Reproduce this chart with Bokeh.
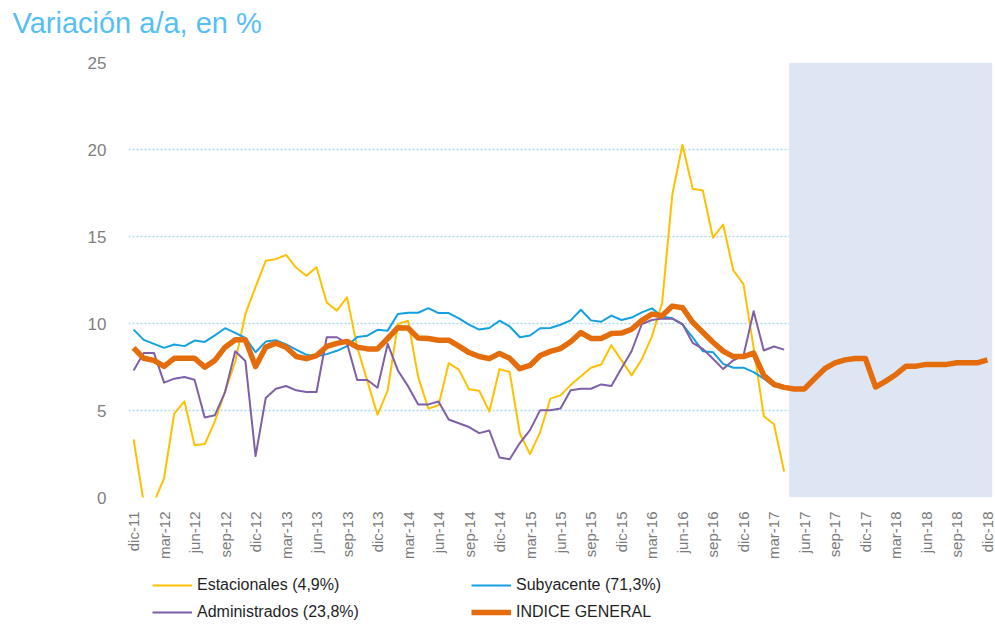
import math
import numpy as np
from bokeh.plotting import figure
from bokeh.models import Range1d, FixedTicker, Legend, LegendItem, Title
from bokeh.layouts import column
from bokeh.embed import file_html
from bokeh.resources import INLINE

# ---------------- data ----------------
month_names = ["ene", "feb", "mar", "abr", "may", "jun", "jul", "ago", "sep", "oct", "nov", "dic"]
months = ["dic-11"] + [f"{m}-{y}" for y in range(12, 19) for m in month_names]  # dic-11 .. dic-18

tick_labels = ["dic-11", "mar-12", "jun-12", "sep-12", "dic-12", "mar-13", "jun-13", "sep-13",
               "dic-13", "mar-14", "jun-14", "sep-14", "dic-14", "mar-15", "jun-15", "sep-15",
               "dic-15", "mar-16", "jun-16", "sep-16", "dic-16", "mar-17", "jun-17", "sep-17",
               "dic-17", "mar-18", "jun-18", "sep-18", "dic-18"]

y_ticks = [0, 5, 10, 15, 20, 25]
forecast_start = "may-17"

estacionales = [3.34, -0.3, -0.3, 1.12, 4.82, 5.53, 3.0, 3.07, 4.38, 6.1, 7.8, 10.55,
                12.1, 13.6, 13.7, 13.94, 13.2, 12.74, 13.23, 11.21, 10.74, 11.5, 8.64, 6.69,
                4.75, 6.16, 9.97, 10.16, 6.92, 5.11, 5.3, 7.72, 7.35, 6.22, 6.14, 4.94,
                7.38, 7.21, 3.68, 2.49, 3.76, 5.68, 5.87, 6.47, 6.97, 7.46, 7.64, 8.75,
                7.88, 7.02, 7.95, 9.26, 11.2, 17.41, 20.27, 17.75, 17.64, 14.93, 15.69, 13.06,
                12.26, 8.6, 4.67, 4.21, 1.49]

subyacente = [9.65, 9.06, 8.83, 8.6, 8.79, 8.7, 9.02, 8.94, 9.32, 9.73, 9.46, 9.17,
              8.35, 8.96, 9.04, 8.8, 8.5, 8.2, 8.1, 8.24, 8.43, 8.7, 9.22, 9.3,
              9.64, 9.59, 10.55, 10.62, 10.62, 10.88, 10.6, 10.6, 10.3, 9.94, 9.65, 9.74,
              10.16, 9.83, 9.21, 9.31, 9.73, 9.74, 9.93, 10.18, 10.79, 10.18, 10.1, 10.45,
              10.2, 10.34, 10.64, 10.87, 10.4, 10.3, 9.95, 9.21, 8.41, 8.35, 7.68, 7.46,
              7.46, 7.21, 6.83, 6.39, 6.3]

administrados = [7.3, 8.31, 8.31, 6.6, 6.83, 6.92, 6.77, 4.6, 4.73, 6.06, 8.41, 7.84,
                 2.38, 5.72, 6.25, 6.41, 6.16, 6.06, 6.06, 9.21, 9.21, 8.85, 6.75, 6.75,
                 6.31, 8.83, 7.3, 6.4, 5.35, 5.35, 5.52, 4.48, 4.27, 4.05, 3.7, 3.85,
                 2.3, 2.2, 3.13, 3.87, 5.02, 5.02, 5.11, 6.16, 6.25, 6.25, 6.5, 6.41,
                 7.43, 8.42, 9.97, 10.2, 10.28, 10.28, 9.97, 8.89, 8.54, 7.97, 7.38, 7.89,
                 8.15, 10.7, 8.45, 8.68, 8.5]

indice_general = [8.6, 8.0, 7.88, 7.53, 8.0, 8.0, 8.0, 7.49, 7.88, 8.64, 9.06, 9.06,
                  7.53, 8.64, 8.87, 8.64, 8.1, 7.98, 8.16, 8.68, 8.86, 8.97, 8.64, 8.54,
                  8.54, 9.14, 9.76, 9.74, 9.16, 9.14, 9.04, 9.04, 8.7, 8.33, 8.1, 7.98,
                  8.28, 8.0, 7.4, 7.59, 8.16, 8.4, 8.56, 8.95, 9.48, 9.14, 9.14, 9.42,
                  9.45, 9.67, 10.18, 10.54, 10.45, 11.0, 10.91, 10.07, 9.5, 8.92, 8.41, 8.1,
                  8.1, 8.3, 7.02, 6.5, 6.33, 6.24, 6.24, 6.83, 7.4, 7.74, 7.91, 7.99,
                  7.99, 6.35, 6.69, 7.07, 7.55, 7.55, 7.65, 7.65, 7.65, 7.74, 7.74, 7.74,
                  7.91]

series = [
    ("Estacionales (4,9%)", estacionales, "#FFC000", 2),
    ("Subyacente (71,3%)", subyacente, "#12A0E0", 2),
    ("Administrados (23,8%)", administrados, "#7F5FA8", 2),
    ("INDICE GENERAL", indice_general, "#E46C0A", 5.5),
]
chart_title = "Variación a/a, en %"

# ---------------- main chart ----------------
FONT = "Liberation Sans"
n = len(months)
W, H_MAIN, H_LEG = 995, 562, 62

p = figure(width=W, height=H_MAIN, output_backend="svg", toolbar_location=None,
           x_range=Range1d(-0.5, n - 0.5), y_range=Range1d(y_ticks[0], y_ticks[-1]),
           min_border_left=128, min_border_right=3, min_border_top=62, min_border_bottom=64)
p.outline_line_color = None
p.background_fill_color = "white"
p.border_fill_color = "white"
p.title.text = ""

# spacer between the title and the plot area, then the title itself (further out)
p.add_layout(Title(text=" ", text_font=FONT, text_font_size="10px", standoff=2), "above")
p.add_layout(Title(text=chart_title, text_font=FONT, text_font_size="29px",
                   text_font_style="normal", text_color="#55BFF5", align="left",
                   vertical_align="top", offset=-116, standoff=13), "above")

# forecast shading
fs = months.index(forecast_start)
p.quad(left=[fs - 0.5], right=[n - 0.5], bottom=[y_ticks[0]], top=[y_ticks[-1]],
       fill_color="#DDE6F2", line_color=None)

for label, vals, color, lw in series:
    p.line(x=list(range(len(vals))), y=vals, line_color=color, line_width=lw, line_join="round")

xa = p.xaxis[0]
xa.ticker = FixedTicker(ticks=[months.index(t) for t in tick_labels])
xa.major_label_overrides = {months.index(t): t for t in tick_labels}
xa.major_label_orientation = math.pi / 2
xa.axis_line_color = None
xa.major_tick_line_color = None
xa.minor_tick_line_color = None
xa.major_tick_in = 0
xa.major_tick_out = 0
xa.major_label_standoff = 14
xa.major_label_text_font = FONT
xa.major_label_text_font_size = "15px"
xa.major_label_text_color = "#7A7A7A"

ya = p.yaxis[0]
ya.ticker = FixedTicker(ticks=y_ticks)
ya.axis_line_color = None
ya.major_tick_line_color = None
ya.minor_tick_line_color = None
ya.major_tick_in = 0
ya.major_tick_out = 0
ya.major_label_standoff = 22
ya.major_label_text_font = FONT
ya.major_label_text_font_size = "17px"
ya.major_label_text_color = "#7F7F7F"

p.xgrid.visible = False
p.ygrid.grid_line_color = "#A6D8F0"
p.ygrid.grid_line_dash = "2 2"
p.ygrid.grid_line_width = 1.5

# ---------------- legend strip ----------------
pl = figure(width=W, height=H_LEG, output_backend="svg", toolbar_location=None,
            x_axis_type=None, y_axis_type=None, min_border=0,
            x_range=Range1d(0, 1), y_range=Range1d(0, 1))
pl.outline_line_color = None
pl.grid.visible = False
pl.background_fill_color = "white"
pl.border_fill_color = "white"

rends = {}
for label, vals, color, lw in series:
    # legend-only proxies (no visible data)
    rends[label] = pl.line(x=np.array([0.0, 1.0]), y=np.array([np.nan, np.nan]),
                           line_color=color, line_width=lw)

def make_col(labels, x):
    return Legend(items=[LegendItem(label=l, renderers=[rends[l]]) for l in labels],
                  location=(x, 2), orientation="vertical",
                  background_fill_alpha=0, border_line_alpha=0, padding=0, margin=0,
                  spacing=7, glyph_width=40, glyph_height=20, label_height=20,
                  label_standoff=5, label_text_font=FONT, label_text_font_size="16px",
                  label_text_color="#1F1F1F")

pl.add_layout(make_col([series[0][0], series[2][0]], 24), "center")
pl.add_layout(make_col([series[1][0], series[3][0]], 343), "center")

layout = column(p, pl, spacing=0)
open("out.html", "w").write(file_html(layout, INLINE))
